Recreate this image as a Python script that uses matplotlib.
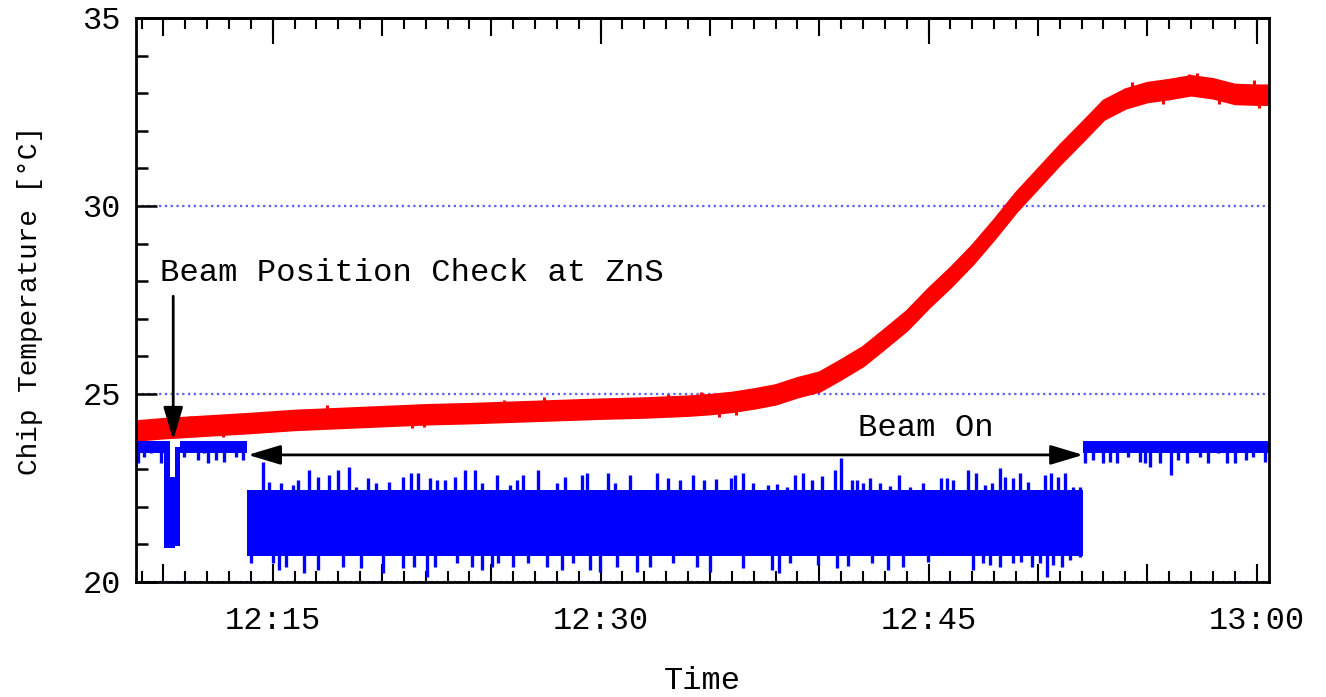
import numpy as np
import matplotlib.pyplot as plt
from matplotlib.ticker import MultipleLocator, FuncFormatter, NullFormatter

plt.rcParams['font.family'] = ['Liberation Mono', 'DejaVu Sans Mono']

# time axis: minutes after 12:00
x_min, x_max = 8.75, 60.57

# red trace (chip temperature), read as lower / upper edge of the noisy band
red_t = [8.75, 10, 12, 14, 16, 18, 20, 22, 24, 26, 28, 30, 32, 34, 35, 36, 37, 38, 39, 40,
         41, 42, 43, 44, 45, 46, 47, 48, 49, 50, 51, 52, 53, 54, 55, 56, 57, 58, 59, 60, 60.57]
red_lo = [23.79, 23.85, 23.92, 23.99, 24.07, 24.12, 24.17, 24.22, 24.25, 24.29, 24.33, 24.37,
          24.40, 24.45, 24.49, 24.55, 24.64, 24.75, 24.94, 25.09, 25.42, 25.77, 26.24, 26.72,
          27.32, 27.87, 28.47, 29.15, 29.87, 30.50, 31.13, 31.72, 32.32, 32.62, 32.79, 32.87,
          32.97, 32.89, 32.74, 32.72, 32.72]
red_hi = [24.27, 24.33, 24.40, 24.47, 24.55, 24.60, 24.65, 24.70, 24.73, 24.77, 24.81, 24.85,
          24.88, 24.93, 24.97, 25.03, 25.12, 25.23, 25.42, 25.57, 25.90, 26.25, 26.72, 27.20,
          27.80, 28.35, 28.95, 29.63, 30.35, 30.98, 31.61, 32.20, 32.80, 33.10, 33.27, 33.35,
          33.45, 33.37, 33.22, 33.20, 33.20]

# small notches below the red band
red_dn_t = [12.75, 13.87, 15.74, 19.48, 21.36, 21.9, 22.55, 35.4, 36.2, 55.7, 58.3, 60.1]
red_dn_v = [23.85, 23.95, 24.05, 24.15, 24.1, 24.12, 24.2, 24.38, 24.45, 32.7, 32.72, 32.6]
# small peaks above the red band
red_up_t = [11.2, 17.5, 25.6, 27.4, 33.1, 34.6, 54.3, 56.9, 57.3, 59.9]
red_up_v = [24.42, 24.7, 24.85, 24.92, 25.0, 25.05, 33.3, 33.5, 33.55, 33.35]

# blue trace: solid core of the band
blue_t = [8.75, 10.05, 10.05, 10.30, 10.30, 10.55, 10.55, 10.77, 10.77, 13.83, 13.83,
          52.07, 52.07, 60.57]
blue_lo = [23.42, 23.42, 20.90, 20.90, 20.90, 20.90, 20.95, 20.95, 23.42, 23.42, 20.70,
           20.70, 23.42, 23.42]
blue_hi = [23.75, 23.75, 23.75, 23.75, 22.80, 22.80, 23.60, 23.60, 23.75, 23.75, 22.45,
           22.45, 23.75, 23.75]

# blue spikes above the beam-on band
up_t = [14.55, 14.85, 15.38, 15.92, 16.15, 16.68, 17.06, 17.59, 17.98, 18.51,
        18.81, 19.35, 19.73, 20.34, 20.95, 21.33, 21.66, 22.20, 22.50, 22.88,
        23.34, 23.80, 24.25, 24.56, 25.25, 25.85, 26.16, 26.46, 27.15, 27.99,
        28.37, 29.13, 29.36, 30.35, 30.66, 31.34, 32.56, 33.09, 33.63, 34.24,
        34.73, 35.27, 35.95, 36.14, 36.52, 36.98, 37.67, 38.08, 38.51, 38.89,
        39.24, 39.65, 40.11, 40.72, 40.98, 41.48, 41.71, 42.01, 42.32, 42.77,
        43.23, 43.66, 44.14, 44.75, 45.55, 45.82, 46.12, 46.81, 47.19, 47.57,
        47.88, 48.26, 48.49, 48.87, 49.17, 49.55, 50.32, 50.62, 50.93, 51.23,
        51.61, 51.92]
up_v = [23.20, 22.67, 22.62, 22.58, 22.71, 22.98, 22.80, 22.85, 22.98, 23.07,
        22.53, 22.76, 22.62, 22.67, 22.80, 22.89, 22.89, 22.76, 22.71, 22.71,
        22.80, 22.98, 22.98, 22.62, 22.85, 22.58, 22.71, 22.85, 22.98, 22.62,
        22.80, 22.85, 22.89, 22.89, 22.62, 22.85, 22.89, 22.76, 22.71, 22.85,
        22.70, 22.73, 22.76, 22.85, 22.89, 22.62, 22.58, 22.61, 22.53, 22.85,
        22.89, 22.71, 22.82, 22.98, 23.30, 22.70, 22.71, 22.64, 22.76, 22.62,
        22.55, 22.85, 22.53, 22.62, 22.76, 22.76, 22.71, 22.98, 22.91, 22.58,
        22.62, 23.02, 22.80, 22.76, 22.89, 22.67, 22.85, 22.89, 22.80, 22.89,
        22.53, 22.53]

# blue spikes below the beam-on band
dn_t = [14.01, 15.00, 15.31, 15.61, 16.45, 17.06, 18.20, 19.04, 20.03, 20.95, 21.48,
        22.05, 22.43, 23.42, 24.10, 24.56, 25.02, 25.32, 26.01, 26.69, 27.53, 28.22,
        28.75, 29.51, 29.97, 30.73, 31.65, 32.26, 33.32, 34.39, 35.00, 36.52, 37.82,
        38.17, 38.66, 39.95, 40.79, 41.32, 42.39, 43.15, 43.84, 44.98, 47.04, 47.50,
        47.80, 48.26, 48.87, 49.25, 49.71, 50.09, 50.40, 50.70, 51.08, 51.46, 51.92]
dn_v = [20.50, 20.50, 20.32, 20.41, 20.23, 20.32, 20.41, 20.36, 20.23, 20.36, 20.41,
        20.14, 20.41, 20.50, 20.41, 20.32, 20.41, 20.50, 20.41, 20.50, 20.41, 20.32,
        20.50, 20.32, 20.27, 20.41, 20.27, 20.41, 20.50, 20.41, 20.27, 20.36, 20.32,
        20.23, 20.50, 20.45, 20.36, 20.43, 20.50, 20.32, 20.41, 20.54, 20.32, 20.50,
        20.45, 20.41, 20.50, 20.54, 20.41, 20.50, 20.14, 20.45, 20.41, 20.59, 20.67]

# blue spikes below the flat (beam off) parts
off_t = [8.83, 9.13, 9.44, 9.67, 9.90, 10.96, 11.19, 11.57, 11.88, 12.03, 12.41, 12.79,
         13.33, 13.63, 52.15, 52.53, 52.98, 53.29, 53.60, 54.13, 54.66, 54.89, 55.12,
         55.58, 56.11, 56.41, 56.80, 57.41, 57.79, 58.24, 58.63, 59.01, 59.54, 59.84, 60.38]
off_v = [23.16, 23.33, 23.42, 23.45, 23.16, 23.33, 23.47, 23.24, 23.42, 23.16, 23.24, 23.20,
         23.33, 23.24, 23.16, 23.24, 23.16, 23.20, 23.16, 23.33, 23.20, 23.16, 23.07,
         23.16, 22.85, 23.24, 23.16, 23.33, 23.16, 23.42, 23.16, 23.16, 23.24, 23.33, 23.20]

beam_on = (13.87, 52.07)

fig = plt.figure(figsize=(13.26, 6.97), dpi=100)
ax = fig.add_axes([0.1026, 0.165, 0.8544, 0.8092])

ax.fill_between(red_t, red_lo, red_hi, facecolor='#ff0000', edgecolor='#ff0000',
                lw=2.5, zorder=2)
ax.vlines(red_dn_t, red_dn_v, np.interp(red_dn_t, red_t, red_lo) + 0.1,
          color='#ff0000', lw=2.2, zorder=2)
ax.vlines(red_up_t, np.interp(red_up_t, red_t, red_hi) - 0.1, red_up_v,
          color='#ff0000', lw=2.2, zorder=2)

ax.fill_between(blue_t, blue_lo, blue_hi, color='#0000ff', lw=0, zorder=2)
ax.vlines(up_t, 22.4, up_v, color='#0000ff', lw=2.4, zorder=2)
ax.vlines(dn_t, dn_v, 20.75, color='#0000ff', lw=2.4, zorder=2)
ax.vlines(off_t, off_v, 23.5, color='#0000ff', lw=2.4, zorder=2)

ax.set_xlim(x_min, x_max)
ax.set_ylim(20, 35)

ax.yaxis.grid(True, color='#5a5aff', linestyle=(0, (1, 1.6)), lw=1.6)

ax.xaxis.set_major_locator(MultipleLocator(5))
ax.xaxis.set_minor_locator(MultipleLocator(1))
ax.xaxis.set_major_formatter(FuncFormatter(
    lambda v, p: f"{12 + int(round(v)) // 60}:{int(round(v)) % 60:02d}" if round(v) % 15 == 0 else ""))
ax.yaxis.set_major_locator(MultipleLocator(5))
ax.yaxis.set_minor_locator(MultipleLocator(1))

ax.tick_params(axis='x', which='major', direction='in', top=True, length=13, width=1.5,
               labelsize=23, pad=17)
ax.tick_params(axis='x', which='minor', direction='in', top=True, length=8, width=1.5)
ax.tick_params(axis='y', which='major', direction='in', right=False, length=15, width=1.8,
               labelsize=23, pad=11)
ax.tick_params(axis='y', which='minor', direction='in', right=False, length=8.5, width=1.8)

# longer ticks on top at each quarter hour
sec = ax.secondary_xaxis('top')
sec.set_xticks([15, 30, 45, 60])
sec.xaxis.set_major_formatter(NullFormatter())
sec.tick_params(axis='x', direction='in', length=19, width=1.5)
sec.spines['top'].set_linewidth(2)

for s in ax.spines.values():
    s.set_linewidth(2)

ax.set_xlabel('Time', fontsize=23, labelpad=22)
ax.set_ylabel('Chip Temperature [°C]', fontsize=20, labelpad=28)

# annotations
ax.text(9.85, 28.22, 'Beam Position Check at ZnS', fontsize=23.2, ha='left', va='center')
ax.annotate('', xy=(10.45, 23.78), xytext=(10.45, 27.6),
            arrowprops=dict(arrowstyle='-|>,head_length=1.0,head_width=0.3',
                            mutation_scale=20, color='k', lw=2, shrinkA=0, shrinkB=0),
            zorder=5)
ax.annotate('', xy=(beam_on[1], 23.38), xytext=(beam_on[0], 23.38),
            arrowprops=dict(arrowstyle='<|-|>,head_length=1.0,head_width=0.3',
                            mutation_scale=20, color='k', lw=2, shrinkA=0, shrinkB=0),
            zorder=5)
ax.text(44.88, 24.1, 'Beam On', fontsize=23.2, ha='center', va='center')

fig.savefig('out.png', dpi=100)
